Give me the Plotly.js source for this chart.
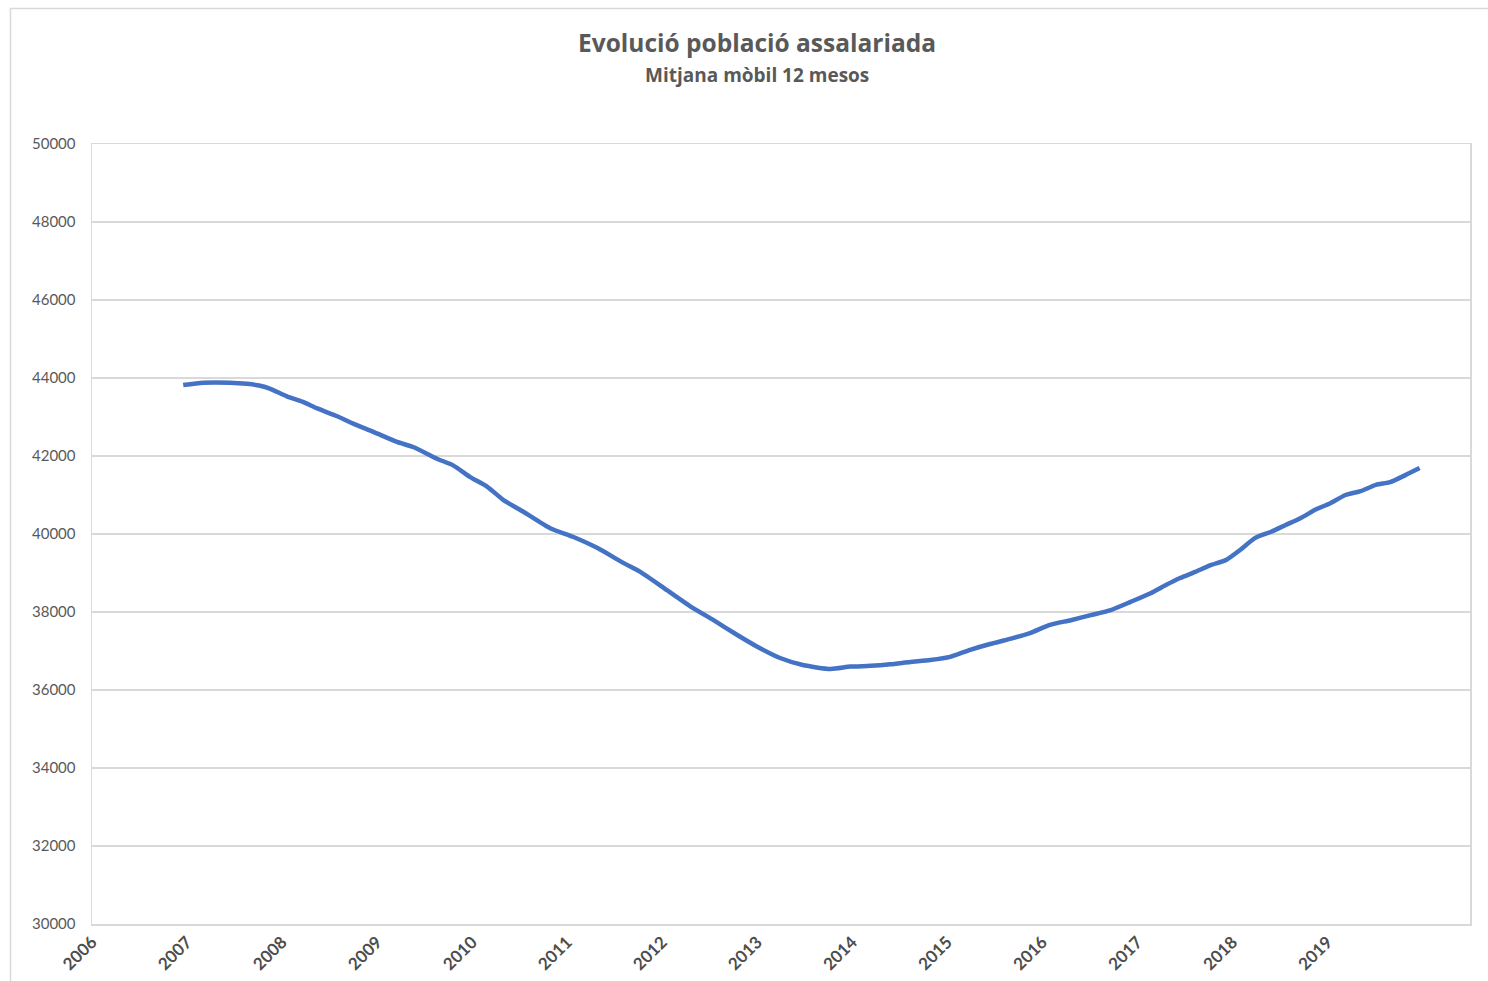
<!DOCTYPE html>
<html>
<head>
<meta charset="utf-8">
<script src="https://cdn.plot.ly/plotly-3.0.1.min.js"></script>
<style>html,body{margin:0;padding:0;background:#fff;}#chart{width:1488px;height:981px;}</style>
</head>
<body>
<div id="chart"></div>
<script>
// Time (decimal year) and 12-month moving average of salaried population
const years = [2006.96, 2007.17, 2007.45, 2007.63, 2007.77, 2007.87, 2008.05, 2008.22, 2008.37, 2008.58,
  2008.75, 2008.96, 2009.21, 2009.38, 2009.63, 2009.80, 2009.98, 2010.16, 2010.33, 2010.54,
  2010.82, 2011.06, 2011.32, 2011.59, 2011.77, 2012.05, 2012.30, 2012.54, 2012.79, 2013.00,
  2013.24, 2013.48, 2013.77, 2013.98, 2014.19, 2014.40, 2014.61, 2014.82, 2015.03, 2015.24,
  2015.45, 2015.66, 2015.87, 2016.08, 2016.30, 2016.51, 2016.72, 2016.93, 2017.14, 2017.30,
  2017.45, 2017.61, 2017.77, 2017.93, 2018.08, 2018.24, 2018.40, 2018.56, 2018.72, 2018.87,
  2019.03, 2019.19, 2019.35, 2019.51, 2019.66, 2019.82, 2019.97];
const values = [43820, 43880, 43880, 43850, 43800, 43730, 43530, 43390, 43220, 43020,
  42830, 42620, 42360, 42230, 41930, 41760, 41460, 41210, 40870, 40570,
  40150, 39930, 39640, 39260, 39030, 38560, 38140, 37790, 37410, 37110,
  36820, 36640, 36540, 36600, 36620, 36660, 36720, 36770, 36850, 37030,
  37180, 37310, 37460, 37670, 37790, 37920, 38050, 38260, 38480, 38690,
  38870, 39030, 39200, 39330, 39590, 39900, 40050, 40230, 40410, 40620,
  40790, 41000, 41100, 41260, 41330, 41510, 41690];
const xTicks = [2006, 2007, 2008, 2009, 2010, 2011, 2012, 2013, 2014, 2015, 2016, 2017, 2018, 2019];
const xTickLabels = ["2006", "2007", "2008", "2009", "2010", "2011", "2012", "2013", "2014", "2015", "2016", "2017", "2018", "2019"];
const yTicks = [30000, 32000, 34000, 36000, 38000, 40000, 42000, 44000, 46000, 48000, 50000];
const titleText = "Evolució població assalariada";
const subtitleText = "Mitjana mòbil 12 mesos";

const grey = "#595959";
const trace = {
  x: years, y: values, type: "scatter", mode: "lines",
  line: {color: "#4472C4", width: 4.5, shape: "spline", smoothing: 0.6},
  hoverinfo: "x+y", showlegend: false
};
const layout = {
  width: 1488, height: 981,
  paper_bgcolor: "#ffffff", plot_bgcolor: "#ffffff",
  margin: {l: 92, r: 18, t: 144, b: 57, pad: 0},
  font: {family: "Lato, 'Open Sans', sans-serif", color: grey},
  title: {text: titleText, font: {size: 24.5, color: grey, family: "'Open Sans', sans-serif", weight: 700},
          x: 757 / 1488, xanchor: "center", xref: "container", y: 1 - 43 / 981, yanchor: "middle"},
  xaxis: {
    range: [2006, 2020.5], tickmode: "array", tickvals: xTicks, ticktext: xTickLabels,
    tickangle: -45, tickfont: {size: 17, color: "#4d4d4d", family: "Lato, sans-serif", weight: "bold"},
    showgrid: false, zeroline: false, showline: true, mirror: true, linecolor: "#d9d9d9", linewidth: 1.5,
    ticks: ""
  },
  yaxis: {
    range: [30000, 50000], tickmode: "array", tickvals: yTicks, ticktext: yTicks.map(String),
    tickfont: {size: 15, color: grey, family: "Lato, sans-serif"},
    showgrid: true, gridcolor: "#d9d9d9", gridwidth: 1.5, zeroline: false,
    showline: true, mirror: true, linecolor: "#d9d9d9", linewidth: 1.5, ticks: "", ticklabelstandoff: 12
  },
  annotations: [{
    text: "<b>" + subtitleText + "</b>", xref: "paper", yref: "paper",
    x: (757 - 92) / 1378, xanchor: "center", y: (924 - 75) / 780, yanchor: "middle", showarrow: false,
    font: {size: 19, color: grey, family: "'Open Sans', sans-serif"}
  }],
  shapes: [{
    type: "rect", xref: "paper", yref: "paper",
    x0: (10.5 - 92) / 1378, x1: (1510 - 92) / 1378,
    y0: (924 - 1010) / 780, y1: (924 - 8.5) / 780,
    line: {color: "#d9d9d9", width: 1.5}, fillcolor: "rgba(0,0,0,0)", layer: "below"
  }]
};
Plotly.newPlot("chart", [trace], layout, {displayModeBar: false, staticPlot: true});
</script>
</body>
</html>
